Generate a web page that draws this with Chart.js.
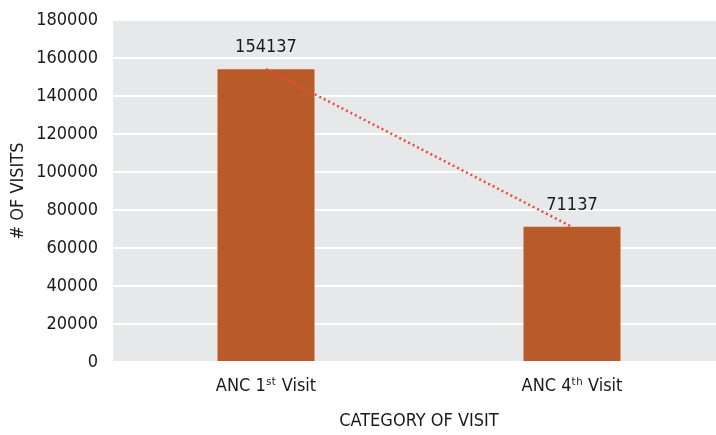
<!DOCTYPE html>
<html>
<head>
<meta charset="utf-8">
<script src="https://cdn.jsdelivr.net/npm/chart.js@4.4.0/dist/chart.umd.min.js"></script>
<style>
  html, body { margin: 0; padding: 0; background: #fff; overflow: hidden; }
  #wrap { width: 725px; height: 435px; }
</style>
</head>
<body>
<div id="wrap"><canvas id="visitChart"></canvas></div>
<script>
// data
const categories = ['ANC 1\u02E2\u1D57 Visit', 'ANC 4\u1D57\u02B0 Visit'];
const visits = [154137, 71137];
const yTicks = [0, 20000, 40000, 60000, 80000, 100000, 120000, 140000, 160000, 180000];

const FONT = "'DejaVu Sans Condensed', 'DejaVu Sans', sans-serif";
const BAR_COLOR = '#b85b29';

// grey plot background
const plotBg = {
  id: 'plotBg',
  beforeDraw(chart){
    const a = chart.chartArea;
    const ctx = chart.ctx;
    ctx.save();
    ctx.fillStyle = '#e7e8ea';
    ctx.fillRect(a.left, a.top, a.right - a.left, a.bottom - a.top);
    ctx.restore();
  }
};

// value labels above bars
const valueLabels = {
  id: 'valueLabels',
  afterDatasetsDraw(chart){
    const ctx = chart.ctx;
    const meta = chart.getDatasetMeta(0);
    ctx.save();
    ctx.font = '18px ' + FONT;
    ctx.fillStyle = '#1a1a1a';
    ctx.textAlign = 'center';
    ctx.textBaseline = 'middle';
    meta.data.forEach((bar, i) => {
      ctx.fillText(String(visits[i]), bar.x, bar.y - 22);
    });
    ctx.restore();
  }
};

new Chart(document.getElementById('visitChart'), {
  data: {
    labels: categories,
    datasets: [
      {
        type: 'bar',
        data: visits,
        backgroundColor: BAR_COLOR,
        categoryPercentage: 1.0,
        barPercentage: 0.317,
        order: 2
      },
      {
        type: 'line',
        data: visits,
        borderColor: '#ec4a3c',
        borderWidth: 2.5,
        borderDash: [2, 3],
        pointRadius: 0,
        fill: false,
        order: 1
      }
    ]
  },
  options: {
    responsive: true,
    maintainAspectRatio: false,
    animation: false,
    layout: { padding: { top: 20, right: 0, left: 0, bottom: 0 } },
    plugins: {
      legend: { display: false },
      tooltip: { enabled: false }
    },
    scales: {
      x: {
        grid: { display: false, drawTicks: false },
        border: { display: false },
        ticks: { color: '#1a1a1a', font: { family: FONT, size: 18 }, padding: 14 },
        title: {
          display: true, text: 'CATEGORY OF VISIT', color: '#1a1a1a',
          font: { family: FONT, size: 18 }, padding: { top: 0, bottom: 3 }
        },
        afterFit(axis){
          axis.height = 73;
          axis.paddingLeft = 0;
          axis.paddingRight = 0;
        }
      },
      y: {
        min: 0, max: 180000,
        afterBuildTicks(axis){ axis.ticks = yTicks.map(v => ({ value: v })); },
        grid: { color: '#ffffff', lineWidth: 2, drawTicks: false },
        border: { display: false },
        ticks: {
          color: '#1a1a1a', font: { family: FONT, size: 18 }, padding: 15,
          callback: v => String(v)
        },
        title: {
          display: true, text: '# OF VISITS', color: '#1a1a1a',
          font: { family: FONT, size: 18 }, padding: { top: 8, bottom: 0 }
        },
        afterFit(axis){
          axis.width = 113;
          axis.paddingTop = 0;
          axis.paddingBottom = 0;
        }
      }
    }
  },
  plugins: [plotBg, valueLabels]
});
</script>
</body>
</html>
